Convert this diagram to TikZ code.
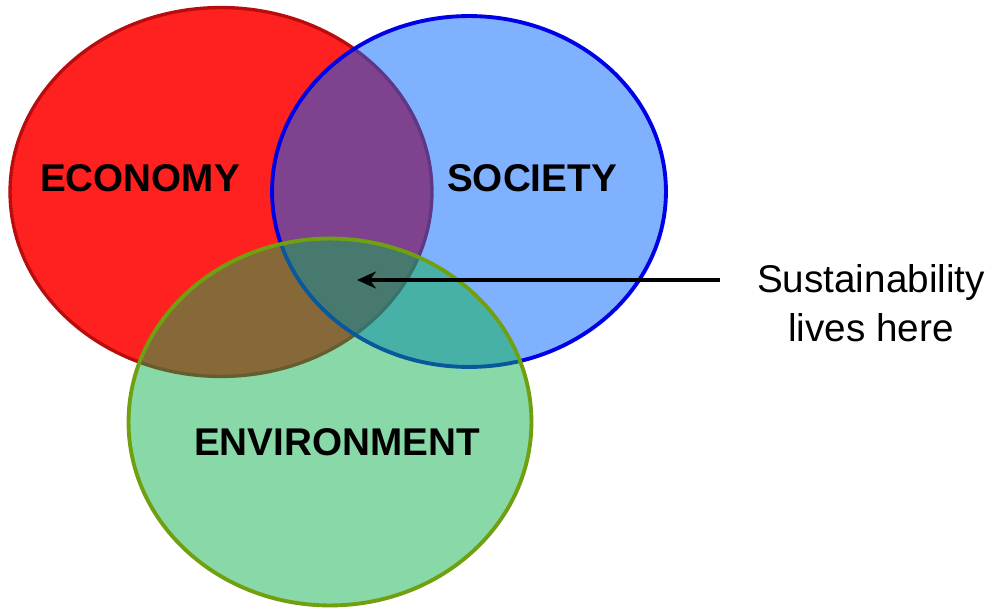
\documentclass[tikz,border=0pt]{standalone}
\usepackage{fontspec}
\setmainfont{Liberation Sans}
\usetikzlibrary{shapes.geometric,arrows.meta}
\definecolor{ecofill}{RGB}{255,32,32}
\definecolor{ecoline}{RGB}{185,12,12}
\definecolor{socfill}{RGB}{0,100,255}
\definecolor{socline}{RGB}{0,0,230}
\definecolor{envfill}{RGB}{17,177,81}
\definecolor{envline}{RGB}{112,160,16}
\tikzset{
  setbox/.style={ellipse, inner sep=0pt, outer sep=0pt},
  biglabel/.style={font=\fontsize{22}{26}\selectfont\bfseries, text=black},
  notelabel/.style={font=\fontsize{22}{28}\selectfont, align=center, text=black},
  pointer/.style={line width=2pt, -{Stealth[length=0.38cm, width=0.34cm]}}
}
\begin{document}
\begin{tikzpicture}[x=0.02cm, y=-0.02cm]
\useasboundingbox (0,0) rectangle (994,608);
\node[setbox, fill=ecofill, draw=ecoline, line width=1.9pt,
      minimum width=8.44cm, minimum height=7.38cm] (eco) at (221,192) {};
\node[setbox, fill=socfill, fill opacity=0.5, draw=socline, draw opacity=1, line width=2.2pt,
      minimum width=7.88cm, minimum height=7.02cm] (soc) at (469,191.5) {};
\node[setbox, fill=envfill, fill opacity=0.5, draw=envline, draw opacity=1, line width=2.2pt,
      minimum width=8.06cm, minimum height=7.34cm] (env) at (330,422) {};
\node[biglabel] (ecol) at (140,178) {ECONOMY};
\node[biglabel] (socl) at (532,178) {SOCIETY};
\node[biglabel] (envl) at (337,442) {ENVIRONMENT};
\node[notelabel] (sus) at (871,303) {Sustainability\\lives here};
\coordinate (tail) at (720,280);
\coordinate (tip) at (357,280);
\draw[pointer] (tail) -- (tip);
\end{tikzpicture}
\end{document}
